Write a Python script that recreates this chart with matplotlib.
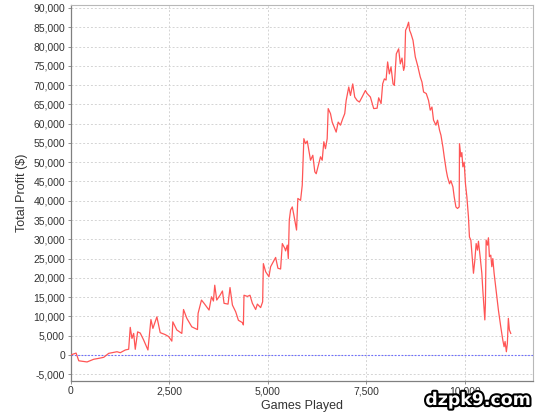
import matplotlib
matplotlib.use("Agg")
import matplotlib.pyplot as plt
import matplotlib.patheffects as pe
from matplotlib.ticker import FuncFormatter, FixedLocator

# ---- data ----
games = [0, 142, 210, 420, 589, 715, 842, 968, 1178, 1261, 1388, 1474, 1514, 1557,
         1600, 1641, 1701, 1767, 1853, 1962, 2038, 2088, 2189, 2273, 2399, 2485,
         2568, 2593, 2694, 2821, 2864, 2948, 3074,
         3218, 3233, 3319, 3385, 3511, 3572, 3622, 3655, 3706, 3789, 3850, 3891,
         3992, 4042, 4103, 4186, 4255, 4356, 4381, 4396, 4482, 4548, 4609, 4692,
         4735, 4818, 4869, 4887, 4945, 5028, 5071, 5139, 5198, 5256, 5324, 5367,
         5433, 5450, 5493, 5519, 5544, 5577, 5620, 5660, 5728, 5761, 5830, 5872,
         5913, 5956, 5999, 6039, 6082, 6140, 6191, 6226, 6292, 6335, 6378, 6419,
         6461, 6504, 6530, 6588, 6631, 6697, 6732, 6783, 6841, 6899, 6949, 6985,
         7051, 7094, 7152, 7202, 7263, 7321, 7389, 7473, 7516, 7599, 7683, 7769,
         7809, 7870, 7910, 7953, 7996, 8036, 8080, 8122, 8173, 8206, 8256, 8315,
         8357, 8400, 8441, 8466, 8491, 8527, 8567, 8593, 8628, 8679, 8737, 8795,
         8863, 8906, 8947, 9015, 9073, 9116, 9159, 9199, 9260, 9301, 9351, 9387,
         9437, 9470, 9521, 9553, 9604, 9639, 9690, 9723, 9766, 9806, 9849, 9857,
         9892, 9917, 9942, 9975, 10008, 10044, 10084, 10109, 10145, 10178, 10211,
         10246, 10279, 10312, 10337, 10380, 10423, 10448, 10481, 10499, 10514,
         10532, 10565, 10590, 10615, 10650, 10676, 10701, 10734, 10784, 10843,
         10903, 10954, 10987, 11012, 11045, 11070, 11095, 11121, 11156]

profit = [0, 500, -1500, -1800, -1100, -870, -600, 430, 850, 600, 1300, 1500, 7170, 4300,
          5600, 1480, 6000, 5700, 3900, 1300, 9200, 6900, 9900, 5800, 5300, 4800,
          3600, 8600, 6500, 5600, 11800, 9500, 7300,
          6600, 10800, 14250, 13400, 11650, 15100, 14000, 18100, 14250, 15500, 16600, 13400,
          13200, 17500, 12950, 11200, 9000, 8400, 7800, 15500, 15200, 15500, 13400, 11800,
          13200, 12300, 13800, 23700, 21600, 20300, 22900, 24200, 25300, 22500, 22300, 28900,
          27600, 27000, 28500, 25000, 35000, 37600, 38400, 36300, 32400, 40600, 40100, 44000,
          56100, 54800, 55500, 53100, 50500, 51800, 47500, 47000, 49600, 51400, 50500, 55300,
          53500, 56100, 63900, 62600, 60400, 58700, 57800, 60400, 59600, 61300, 62600, 66000,
          69500, 67300, 70300, 66900, 66000, 65600, 66900, 68600, 67800, 66900, 63900, 64000,
          66700, 65200, 70300, 71600, 71300, 76000, 72900, 74700, 70300, 69900, 78100, 79400,
          75500, 77000, 73800, 74800, 84200, 85000, 86300, 84200, 83300, 81600, 77300, 75100,
          72100, 70800, 68200, 67800, 66000, 63500, 64300, 60900, 59600, 60900, 58300, 57000,
          53900, 51400, 47900, 46200, 44400, 45200, 43600, 41000, 38400, 38000, 38400, 54800,
          51400, 52500, 48800, 50000, 44400, 41000, 35800, 30600, 29800, 25500, 21200,
          24600, 28900, 27200, 29500, 25500, 21200, 16800, 11650, 9100, 13400,
          29800, 28500, 30400, 25500, 25900, 22900, 25000, 21200, 16800, 11650,
          7300, 3900, 2150, 3500, 850, 3000, 9500, 6500, 5600]

x_ticks = [0, 2500, 5000, 7500, 10000]
y_ticks = list(range(-5000, 90001, 5000))
x_label = "Games Played"
y_label = "Total Profit ($)"
watermark = "dzpk9.com"

# ---- figure ----
plt.rcParams['font.family'] = ['Liberation Sans', 'DejaVu Sans']
fig = plt.figure(figsize=(5.4, 4.2), dpi=100)
fig.patch.set_facecolor('white')
ax = fig.add_axes([70.5 / 540, 1 - 380.5 / 420, (532.7 - 70.5) / 540, (380.5 - 4.7) / 420])
ax.set_facecolor('white')

ax.set_xlim(0, 11712)
ax.set_ylim(-6610, 90840)

ax.xaxis.set_major_locator(FixedLocator(x_ticks))
ax.yaxis.set_major_locator(FixedLocator(y_ticks))
fmt = FuncFormatter(lambda v, p: f"{int(round(v)):,}")
ax.xaxis.set_major_formatter(fmt)
ax.yaxis.set_major_formatter(fmt)

ax.grid(True, color='#d4d4d4', linestyle=(0, (2, 2)), linewidth=0.7)
ax.set_axisbelow(True)

ax.axhline(0, color='#6a6aff', linestyle=(0, (1.5, 1.5)), linewidth=0.8, zorder=2)
ax.plot(games, profit, color='#ff5555', linewidth=0.9, zorder=3)

for s in ['left', 'bottom']:
    ax.spines[s].set_color('#808080')
    ax.spines[s].set_linewidth(0.9)
for s in ['top', 'right']:
    ax.spines[s].set_color('#b8b8b8')
    ax.spines[s].set_linewidth(0.8)

ax.tick_params(axis='both', direction='out', length=2, width=0.6, color='#808080',
               labelsize=7.5, labelcolor='#333333', pad=2)

ax.set_xlabel(x_label, fontsize=9, color='#333333', labelpad=3)
ax.set_ylabel(y_label, fontsize=9, color='#333333', labelpad=4)

fig.text(478 / 540, 1 - 400 / 420, watermark, ha='center', va='center',
         fontsize=12.5, fontweight='bold', family='DejaVu Sans', color='white',
         path_effects=[pe.withStroke(linewidth=3, foreground='black')])

fig.savefig('out.png', dpi=100, facecolor='white')
